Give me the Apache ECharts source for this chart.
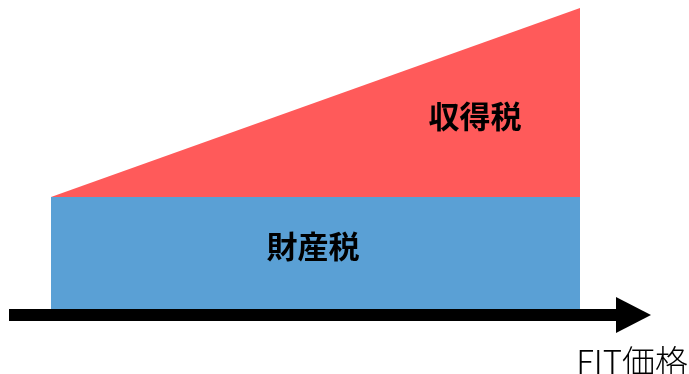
<!DOCTYPE html>
<html>
<head>
<meta charset="utf-8">
<script src="https://cdn.jsdelivr.net/npm/echarts@6/dist/echarts.min.js"></script>
<style>
html,body{margin:0;padding:0;background:#fff;}
#chart{width:689px;height:374px;}
</style>
</head>
<body>
<div id="chart"></div>
<script>
// FIT price positions (start, end)
var fitPrice = ['低', '高'];
// Property tax (constant) and income tax (grows with FIT price)
var propertyTax = [40, 40];
var incomeTax = [0, 67.5];
var seriesNames = ['財産税', '収得税'];
var axisName = 'FIT価格';

var chart = echarts.init(document.getElementById('chart'), null, {renderer: 'canvas'});
var font = '"Noto Sans CJK JP", "Noto Sans", sans-serif';

chart.setOption({
  animation: false,
  backgroundColor: '#ffffff',
  grid: [
    {left: 51, right: 109, top: 8, bottom: 65},
    {left: 9, right: 55.5, top: 300, bottom: 59}
  ],
  xAxis: [
    {type: 'category', gridIndex: 0, data: fitPrice, boundaryGap: false, show: false},
    {type: 'value', gridIndex: 1, min: 0, max: 1, show: true,
      axisLine: {show: true, lineStyle: {color: '#000', width: 12, cap: 'butt'},
        symbol: ['none', 'triangle'], symbolSize: [36, 35]},
      axisTick: {show: false}, axisLabel: {show: false}, splitLine: {show: false}}
  ],
  yAxis: [
    {type: 'value', gridIndex: 0, min: 0, max: propertyTax[1] + incomeTax[1], show: false},
    {type: 'value', gridIndex: 1, show: false}
  ],
  series: [
    {name: seriesNames[0], type: 'line', stack: 'tax', xAxisIndex: 0, yAxisIndex: 0,
      data: propertyTax, symbol: 'none', lineStyle: {width: 0},
      areaStyle: {color: '#5aa0d5', opacity: 1}, z: 2},
    {name: seriesNames[1], type: 'line', stack: 'tax', xAxisIndex: 0, yAxisIndex: 0,
      data: incomeTax, symbol: 'none', lineStyle: {width: 0},
      areaStyle: {color: '#ff5a5a', opacity: 1}, z: 2}
  ],
  graphic: [
    {type: 'text', x: 475, y: 116, style: {text: seriesNames[1], font: 'bold 31px ' + font,
      fill: '#000', textAlign: 'center', textVerticalAlign: 'middle'}, z: 10},
    {type: 'text', x: 313, y: 246, style: {text: seriesNames[0], font: 'bold 31px ' + font,
      fill: '#000', textAlign: 'center', textVerticalAlign: 'middle'}, z: 10},
    {type: 'text', x: 688, y: 361, style: {text: axisName, font: '300 33px ' + font,
      fill: '#000', textAlign: 'right', textVerticalAlign: 'middle'}, z: 10}
  ]
});
</script>
</body>
</html>
